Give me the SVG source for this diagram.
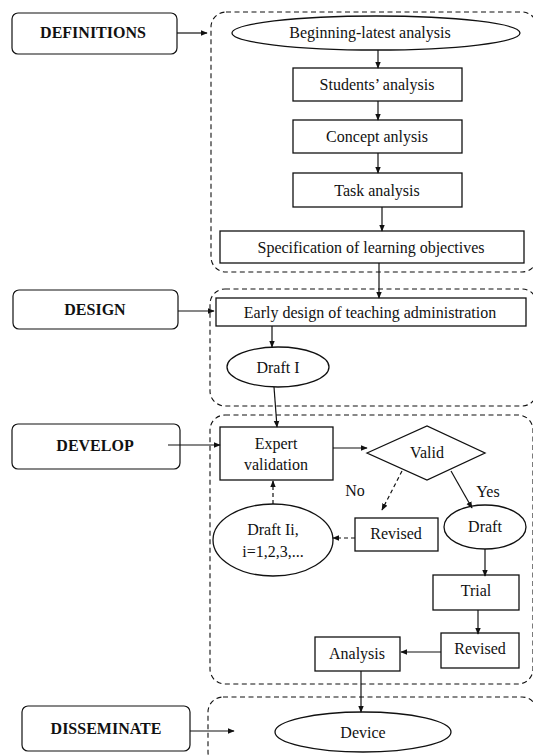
<svg xmlns="http://www.w3.org/2000/svg" width="533" height="755" viewBox="0 0 533 755">
<defs>
<style>
text{font-family:"Liberation Serif","DejaVu Serif",serif;fill:#111;text-anchor:middle}
.t{font-size:16px}
.b{font-size:16px;font-weight:bold}
.n{fill:#fff;stroke:#111;stroke-width:1.3}
.phase{fill:#fff;stroke:#111;stroke-width:1.2}
.grp{fill:none;stroke:#111;stroke-width:1.1;stroke-dasharray:5 3.5}
.c{fill:none;stroke:#111;stroke-width:1.2}
.d{fill:none;stroke:#111;stroke-width:1.2;stroke-dasharray:4 3}
</style>
<marker id="a" viewBox="0 0 10 10" refX="9" refY="5" markerWidth="7" markerHeight="7" orient="auto" markerUnits="userSpaceOnUse"><path d="M0,1 L10,5 L0,9 z" fill="#111"/></marker>
</defs>
<rect width="533" height="755" fill="#fff"/>
<g id="groups">
<rect class="grp" x="211" y="12" width="326" height="260" rx="15"/>
<rect class="grp" x="210" y="289" width="327" height="117" rx="15"/>
<rect class="grp" x="210" y="415" width="323" height="269" rx="15"/>
<rect class="grp" x="208" y="697" width="329" height="70" rx="15"/>
</g>
<g id="definitions"><rect class="phase" x="12" y="13" width="165" height="41" rx="6"/><text class="b" x="93" y="38">DEFINITIONS</text></g>
<g id="design"><rect class="phase" x="13" y="290" width="165" height="39" rx="6"/><text class="b" x="95" y="315">DESIGN</text></g>
<g id="develop"><rect class="phase" x="12" y="424" width="168" height="45" rx="6"/><text class="b" x="95" y="451">DEVELOP</text></g>
<g id="disseminate"><rect class="phase" x="22" y="706" width="168" height="45" rx="6"/><text class="b" x="106" y="734">DISSEMINATE</text></g>
<g id="beginning"><ellipse class="n" cx="376" cy="33" rx="144" ry="17"/><text class="t" x="370" y="38">Beginning-latest analysis</text></g>
<g id="students"><rect class="n" x="293" y="68" width="169" height="33"/><text class="t" x="377" y="90">Students’ analysis</text></g>
<g id="concept"><rect class="n" x="293" y="120" width="169" height="33"/><text class="t" x="377" y="142">Concept anlysis</text></g>
<g id="task"><rect class="n" x="293" y="173" width="169" height="34"/><text class="t" x="377" y="196">Task analysis</text></g>
<g id="specification"><rect class="n" x="220" y="231" width="304" height="32"/><text class="t" x="371" y="253">Specification of learning objectives</text></g>
<g id="early"><rect class="n" x="216" y="298" width="310" height="28"/><text class="t" x="370" y="318">Early design of teaching administration</text></g>
<g id="draft1"><ellipse class="n" cx="278" cy="367" rx="51" ry="20"/><text class="t" x="278" y="373">Draft I</text></g>
<g id="expert"><rect class="n" x="220" y="427" width="113" height="53"/><text class="t" x="276" y="449">Expert</text><text class="t" x="276" y="470">validation</text></g>
<g id="valid"><polygon class="n" points="367,453 427,426 485,453 427,480"/><text class="t" x="427" y="458">Valid</text></g>
<g id="draftIi"><ellipse class="n" cx="273" cy="540" rx="60" ry="36"/><text class="t" x="273" y="535">Draft Ii,</text><text class="t" x="273" y="557">i=1,2,3,...</text></g>
<g id="revised1"><rect class="n" x="355" y="518" width="83" height="33"/><text class="t" x="396" y="539">Revised</text></g>
<g id="draft"><ellipse class="n" cx="485" cy="527" rx="41" ry="22"/><text class="t" x="485" y="532">Draft</text></g>
<g id="trial"><rect class="n" x="433" y="575" width="86" height="35"/><text class="t" x="476" y="596">Trial</text></g>
<g id="revised2"><rect class="n" x="441" y="633" width="78" height="35"/><text class="t" x="480" y="654">Revised</text></g>
<g id="analysis"><rect class="n" x="315" y="637" width="85" height="34"/><text class="t" x="357" y="659">Analysis</text></g>
<g id="device"><ellipse class="n" cx="363" cy="732" rx="88" ry="20"/><text class="t" x="363" y="738">Device</text></g>
<g id="connectors">
<line class="c" x1="177" y1="33" x2="207" y2="33" marker-end="url(#a)"/>
<line class="c" x1="378" y1="50" x2="378" y2="68" marker-end="url(#a)"/>
<line class="c" x1="378" y1="101" x2="378" y2="120" marker-end="url(#a)"/>
<line class="c" x1="378" y1="153" x2="378" y2="173" marker-end="url(#a)"/>
<line class="c" x1="382" y1="207" x2="382" y2="231" marker-end="url(#a)"/>
<line class="c" x1="379" y1="263" x2="379" y2="298" marker-end="url(#a)"/>
<line class="c" x1="178" y1="311" x2="214" y2="311" marker-end="url(#a)"/>
<line class="c" x1="272" y1="326" x2="272" y2="347" marker-end="url(#a)"/>
<line class="c" x1="274" y1="387" x2="277" y2="427" marker-end="url(#a)"/>
<line class="c" x1="168" y1="445" x2="220" y2="445" marker-end="url(#a)"/>
<line class="c" x1="333" y1="448" x2="367" y2="448" marker-end="url(#a)"/>
<line class="d" x1="402" y1="471" x2="382" y2="510" marker-end="url(#a)"/>
<line class="c" x1="451" y1="471" x2="472" y2="508" marker-end="url(#a)"/>
<line class="d" x1="273" y1="504" x2="273" y2="481" marker-end="url(#a)"/>
<line class="d" x1="355" y1="538" x2="333" y2="538" marker-end="url(#a)"/>
<line class="c" x1="485" y1="549" x2="485" y2="576" marker-end="url(#a)"/>
<line class="c" x1="478" y1="610" x2="478" y2="634" marker-end="url(#a)"/>
<line class="c" x1="441" y1="652" x2="401" y2="652" marker-end="url(#a)"/>
<line class="c" x1="361" y1="671" x2="361" y2="712" marker-end="url(#a)"/>
<line class="c" x1="190" y1="731" x2="234" y2="731" marker-end="url(#a)"/>
<text class="t" x="355" y="496">No</text>
<text class="t" x="488" y="497">Yes</text>
</g>
</svg>
